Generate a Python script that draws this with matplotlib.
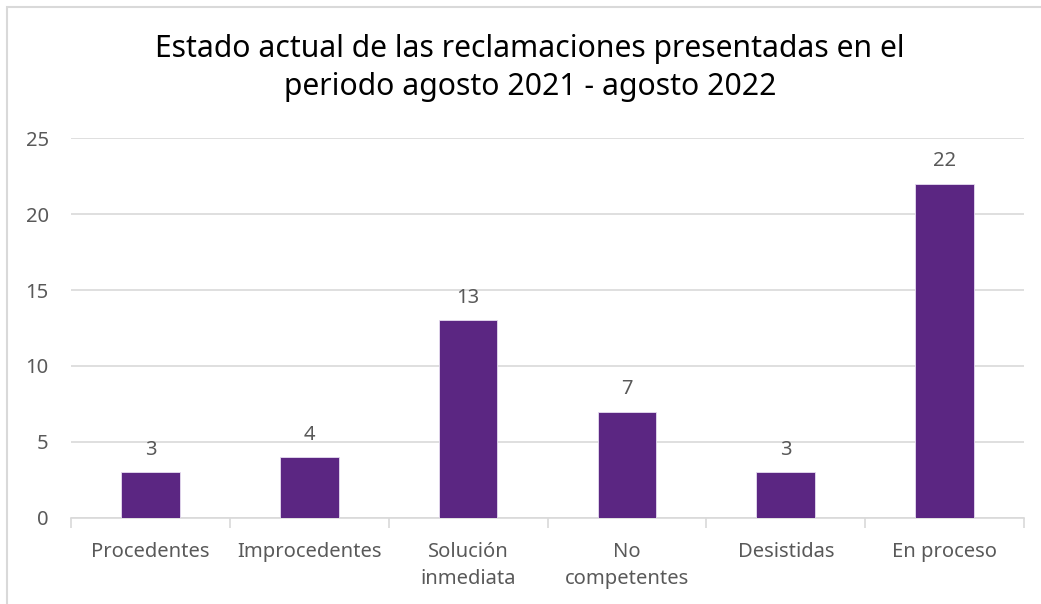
import matplotlib.pyplot as plt
from matplotlib.patches import Rectangle

categories = ["Procedentes", "Improcedentes", "Solución\ninmediata",
              "No\ncompetentes", "Desistidas", "En proceso"]
values = [3, 4, 13, 7, 3, 22]
y_ticks = [0, 5, 10, 15, 20, 25]

title = "Estado actual de las reclamaciones presentadas en el\nperiodo agosto 2021 - agosto 2022"

bar_color = "#5B2682"
text_color = "#595959"
grid_color = "#D9D9D9"

plt.rcParams["font.family"] = ["Noto Sans", "DejaVu Sans"]

fig = plt.figure(figsize=(10.41, 6.04), dpi=100)
ax = fig.add_axes([0.0682, 0.1424, 0.9155, 0.6291])

# chart border (only top/left visible in the reference)
fig.patches.append(Rectangle((7 / 1041, -0.1), 1.2, 1 - 7 / 604 + 0.1,
                             transform=fig.transFigure, fill=False,
                             edgecolor="#D9D9D9", linewidth=1.5))

x = range(len(categories))
bars = ax.bar(x, values, width=0.37, color=bar_color, edgecolor="#E6DDF0",
              linewidth=0.6, zorder=3)

for b, v in zip(bars, values):
    ax.annotate(str(v), (b.get_x() + b.get_width() / 2, v),
                xytext=(0, 9), textcoords="offset points",
                ha="center", va="bottom", fontsize=14.5, color=text_color)

ax.set_xlim(-0.5, len(categories) - 0.5)
ax.set_ylim(0, 25)
ax.set_yticks(y_ticks)
ax.yaxis.grid(True, color=grid_color, linewidth=1.2, zorder=0)
ax.tick_params(axis="y", length=0, pad=16, labelsize=14.5, labelcolor=text_color)

# category labels centred, tick marks on the boundaries
ax.set_xticks(list(x))
ax.set_xticklabels(categories, linespacing=1.5)
ax.tick_params(axis="x", which="major", length=0, pad=17, labelsize=14.5,
               labelcolor=text_color)
ax.set_xticks([i - 0.5 for i in range(len(categories) + 1)], minor=True)
ax.tick_params(axis="x", which="minor", length=7, width=1.2, color=grid_color,
               direction="out")

for s in ["top", "right", "left"]:
    ax.spines[s].set_visible(False)
ax.spines["bottom"].set_color(grid_color)
ax.spines["bottom"].set_linewidth(1.2)

fig.text(530 / 1041, 1 - 68 / 604, title, ha="center", va="center",
         fontsize=21.7, color="black", linespacing=1.38)

fig.savefig("out.png", dpi=100, facecolor="white")
